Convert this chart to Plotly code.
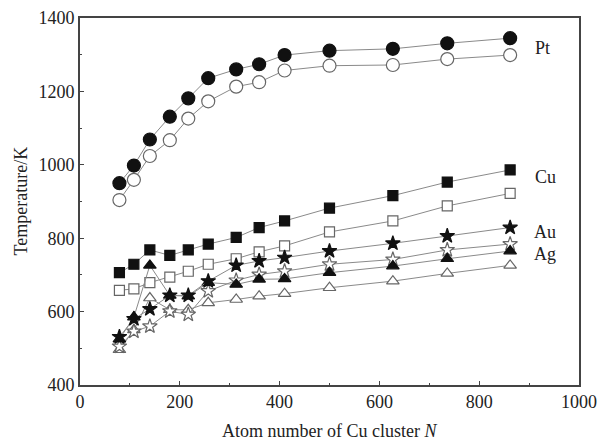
import plotly.graph_objects as go

N = [79, 108, 140, 180, 217, 257, 313, 359, 410, 500, 627, 736, 862]
pt_solid = [950, 998, 1069, 1131, 1181, 1236, 1260, 1274, 1299, 1311, 1316, 1331, 1345]
pt_liquid = [904, 959, 1024, 1067, 1126, 1173, 1213, 1225, 1257, 1270, 1272, 1288, 1299]
cu_solid = [706, 729, 768, 753, 768, 784, 802, 829, 847, 882, 916, 953, 986]
cu_liquid = [658, 662, 679, 694, 710, 729, 744, 763, 779, 817, 847, 888, 922]
au_solid = [531, 580, 607, 644, 644, 683, 726, 738, 747, 765, 786, 806, 829]
au_liquid = [505, 546, 560, 601, 592, 656, 685, 701, 710, 729, 742, 768, 784]
ag_solid = [525, 585, 726, 644, 642, 679, 674, 688, 689, 706, 724, 744, 765]
ag_liquid = [496, 550, 637, 605, 605, 624, 633, 642, 649, 665, 683, 704, 726]

labels = ["Pt", "Cu", "Au", "Ag"]
label_x = [926, 932, 932, 932]
label_y = [1318, 967, 816, 756]

FONT = "Liberation Serif, Times New Roman, serif"
LINE_C = "#8a8a8a"
TXT = "#222222"

series = [
    (pt_solid, "circle", True, 13),
    (pt_liquid, "circle", False, 13),
    (cu_solid, "square", True, 10),
    (cu_liquid, "square", False, 10),
    (ag_liquid, "triangle-up", False, 11),
    (au_liquid, "star", False, 11),
    (ag_solid, "triangle-up", True, 11),
    (au_solid, "star", True, 11),
]

fig = go.Figure()
for ys, sym, filled, sz in series:
    fig.add_trace(go.Scatter(
        x=N, y=ys, mode="lines+markers",
        line=dict(color=LINE_C, width=1),
        marker=dict(symbol=sym, size=sz,
                    color="#111111" if filled else "white",
                    line=dict(color="#111111" if filled else "#666666", width=1.2)),
        showlegend=False,
    ))

for t, lx, ly in zip(labels, label_x, label_y):
    fig.add_annotation(x=lx, y=ly, text=t, showarrow=False,
                       xanchor="center", yanchor="middle",
                       font=dict(family=FONT, size=18, color=TXT))

# axis titles
fig.add_annotation(xref="paper", yref="paper", x=0.5, y=0, yshift=-46,
                   text="Atom number of Cu cluster <i>N</i>", showarrow=False,
                   xanchor="center", yanchor="middle",
                   font=dict(family=FONT, size=18, color=TXT))
fig.add_annotation(xref="paper", yref="paper", x=0, y=0.5, xshift=-60,
                   text="Temperature/K", showarrow=False, textangle=-90,
                   xanchor="center", yanchor="middle",
                   font=dict(family=FONT, size=18, color=TXT))

axis_common = dict(
    showline=True, linecolor="#444444", linewidth=1.6, mirror=True,
    ticks="inside", ticklen=4, tickwidth=1.2, tickcolor="#444444",
    showgrid=False, zeroline=False, automargin=False,
    tickfont=dict(family=FONT, size=18, color=TXT),
)

fig.update_xaxes(range=[0, 1000], dtick=200,
                 minor=dict(dtick=100, ticks="inside", ticklen=2.5, tickcolor="#444444", tickwidth=1),
                 **axis_common)
fig.update_yaxes(range=[400, 1400], dtick=200,
                 minor=dict(dtick=100, ticks="inside", ticklen=2.5, tickcolor="#444444", tickwidth=1),
                 **axis_common)

fig.update_layout(
    width=598, height=443,
    margin=dict(l=80, r=19, t=18, b=58),
    plot_bgcolor="white", paper_bgcolor="white",
)

fig.write_html("out.html")
